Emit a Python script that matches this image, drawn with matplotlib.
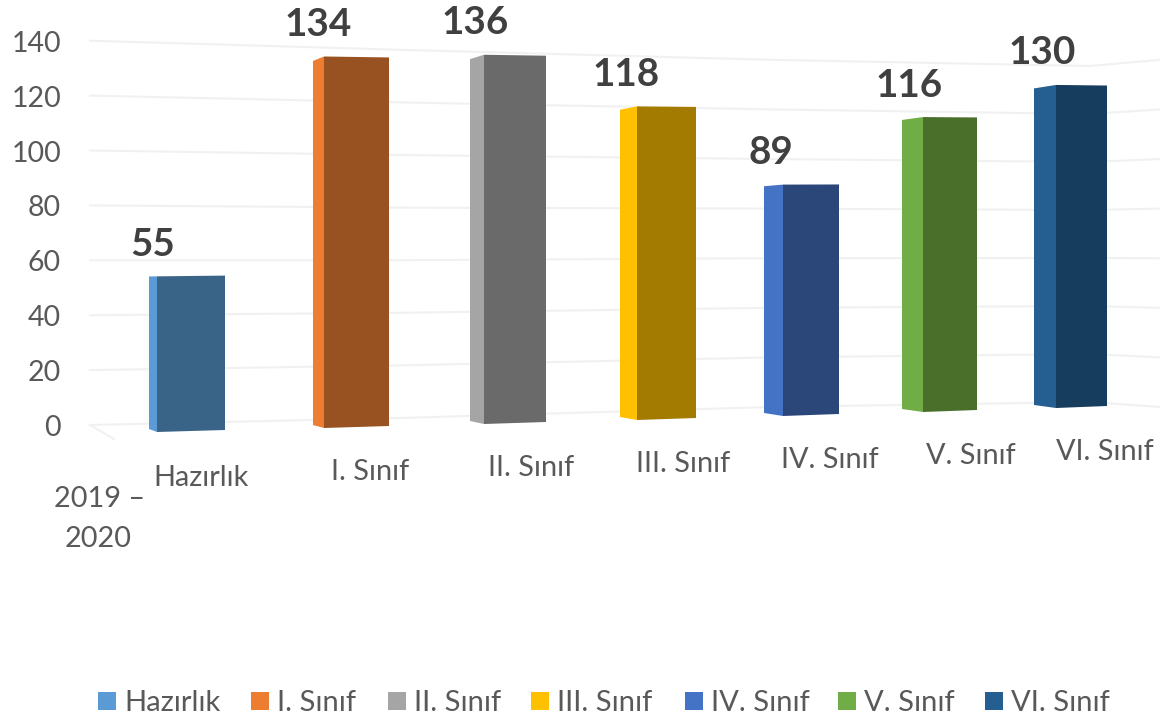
import numpy as np
import matplotlib
matplotlib.use('Agg')
import matplotlib.pyplot as plt
from matplotlib.patches import Polygon, Rectangle

plt.rcParams['font.family'] = ['Lato', 'DejaVu Sans']

# values
categories = ['Hazırlık', 'I. Sınıf', 'II. Sınıf', 'III. Sınıf', 'IV. Sınıf', 'V. Sınıf', 'VI. Sınıf']
students = [55, 134, 136, 118, 89, 116, 130]
y_ticks = [0, 20, 40, 60, 80, 100, 120, 140]
period_label = ['2019 –', '2020']

# colours
side_colors = ['#5B9BD5', '#ED7D31', '#A5A5A5', '#FFC000', '#4472C4', '#70AD47', '#255E91']
front_colors = ['#3A6487', '#985120', '#6A6A6A', '#A37B00', '#2B4678', '#4A6F2B', '#163C5E']
text_color = '#595959'
label_color = '#404040'

# perspective of the back wall, sampled along the picture width
wall_x = [90, 400, 770, 1090, 1160]
wall_zero = [425, 418, 407, 402, 407]
wall_unit = [2.745, 2.63, 2.48, 2.4, 2.48]

# perspective of the bars, one slot per category
side_left = [149, 313, 470, 620, 764, 902, 1034]
front_left = [157, 324, 484, 637, 783, 923, 1056]
front_right = [225, 389, 546, 696, 839, 977, 1107]
cat_label_x = [201, 370, 531, 683, 830, 971, 1105]
cat_label_y = [478, 472, 468, 464, 460, 456, 452]
legend_x = [98, 251, 388, 531, 685, 838, 985]


def base_y(i):
    return 432 - 4 * i


def unit_px(i):
    return 2.83 - 0.0575 * i


def wall_y(x, value):
    return np.interp(x, wall_x, wall_zero) - value * np.interp(x, wall_x, wall_unit)


fig = plt.figure(figsize=(11.6, 7.16), dpi=100)
ax = fig.add_axes([0, 0, 1, 1])
ax.set_xlim(0, 1160)
ax.set_ylim(716, 0)
ax.axis('off')

# gridlines on the wall
for tick in y_ticks:
    ax.plot(wall_x, [wall_y(x, tick) for x in wall_x], color='#F1F1F1', lw=1.5, zorder=1)
    ax.text(61, wall_y(90, tick) + 3, str(tick), ha='right', va='center',
            fontsize=20.5, color=text_color)
ax.plot([90, 114], [wall_y(90, 0), wall_y(90, 0) + 14], color='#F1F1F1', lw=1.5, zorder=1)

# bars: side face and front face
for i, value in enumerate(students):
    x0, x1, x2 = side_left[i], front_left[i], front_right[i]
    y0 = base_y(i)
    height = value * unit_px(i)
    side = [(x0, y0 - 3), (x1, y0), (x1, y0 - height), (x0, y0 - 3 - height * 0.98)]
    front = [(x1, y0), (x2, y0 - 2), (x2, y0 - 2 - height * 0.992), (x1, y0 - height)]
    ax.add_patch(Polygon(side, closed=True, fc=side_colors[i], ec='none', zorder=3))
    ax.add_patch(Polygon(front, closed=True, fc=front_colors[i], ec='none', zorder=3))

    ax.text(x0 + 4 + 0.7 * i, y0 - height - 32, str(value), ha='center', va='center',
            fontsize=27.8, fontweight='bold', color=label_color)
    ax.text(cat_label_x[i], cat_label_y[i], categories[i], ha='center', va='center',
            fontsize=20.8, color=text_color)

# first category group label
ax.text(99.5, 499, period_label[0], ha='center', va='center', fontsize=20.8, color=text_color)
ax.text(98.5, 539, period_label[1], ha='center', va='center', fontsize=20.8, color=text_color)

# legend
for i, name in enumerate(categories):
    ax.add_patch(Rectangle((legend_x[i], 692), 18, 18, fc=side_colors[i], ec='none'))
    ax.text(legend_x[i] + 26, 703, name, ha='left', va='center', fontsize=21, color=text_color)

fig.savefig('out.png', dpi=100)
